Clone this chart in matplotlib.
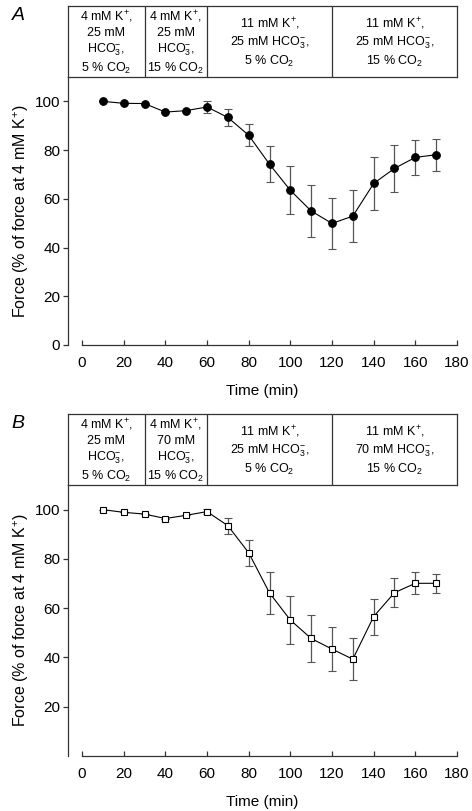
import matplotlib
matplotlib.use("Agg")
import matplotlib.pyplot as plt

plt.rcParams['font.family'] = ['Liberation Sans', 'DejaVu Sans']
plt.rcParams['mathtext.fontset'] = 'custom'
plt.rcParams['mathtext.rm'] = 'Liberation Sans'
plt.rcParams['mathtext.it'] = 'Liberation Sans:italic'

# время, мин
time = [10, 20, 30, 40, 50, 60, 70, 80, 90, 100, 110, 120, 130, 140, 150, 160, 170]

# панель A: 25 -> 25 mM HCO3
force_a = [100, 99.2, 99.1, 95.6, 96.2, 97.7, 93.4, 86.1, 74.2, 63.5, 55.0, 49.9, 52.9, 66.3, 72.5, 77.0, 78.1]
err_a = [0, 0, 0, 0, 0, 2.5, 3.4, 4.6, 7.5, 9.8, 10.6, 10.6, 10.7, 11.0, 9.6, 7.2, 6.6]

# панель B: 25 -> 70 mM HCO3
force_b = [100, 98.9, 98.2, 96.4, 97.7, 99.2, 93.5, 82.5, 66.2, 55.2, 47.7, 43.4, 39.3, 56.6, 66.3, 70.1, 70.1]
err_b = [0, 0, 0, 0, 0, 1.0, 3.3, 5.2, 8.6, 9.6, 9.6, 9.1, 8.6, 7.3, 6.0, 4.4, 3.9]

# границы периодов (мин) и подписи к ним
periods = [30, 60, 120]
labels_a = ["4 mM K$^{+}$,\n25 mM\nHCO$_{3}^{-}$,\n5 % CO$_{2}$",
            "4 mM K$^{+}$,\n25 mM\nHCO$_{3}^{-}$,\n15 % CO$_{2}$",
            "11 mM K$^{+}$,\n25 mM HCO$_{3}^{-}$,\n5 % CO$_{2}$",
            "11 mM K$^{+}$,\n25 mM HCO$_{3}^{-}$,\n15 % CO$_{2}$"]
labels_b = ["4 mM K$^{+}$,\n25 mM\nHCO$_{3}^{-}$,\n5 % CO$_{2}$",
            "4 mM K$^{+}$,\n70 mM\nHCO$_{3}^{-}$,\n15 % CO$_{2}$",
            "11 mM K$^{+}$,\n25 mM HCO$_{3}^{-}$,\n5 % CO$_{2}$",
            "11 mM K$^{+}$,\n70 mM HCO$_{3}^{-}$,\n15 % CO$_{2}$"]

W, H = 472, 811
fig = plt.figure(figsize=(W / 100, H / 100), dpi=100)

x0 = -6.72
axcol = '#333333'


def px(l, t, r, b):
    return [l / W, 1 - b / H, (r - l) / W, (b - t) / H]


def panel(box_rect, ax_rect, force, err, labels, marker, mfc, yticks, letter, letter_y):
    ax = fig.add_axes(px(*ax_rect))
    ax.patch.set_visible(False)
    ax.errorbar(time, force, yerr=err, fmt='-', color='black', lw=0.8,
                ecolor='#555555', elinewidth=0.9, capsize=3, capthick=0.9,
                marker=marker, markersize=5.5 if marker == 'o' else 5,
                markerfacecolor=mfc, markeredgecolor='black', markeredgewidth=0.8)
    ax.set_xlim(x0, 180)
    ax.set_ylim(0, 110)
    ax.spines['top'].set_visible(False)
    ax.spines['right'].set_visible(False)
    ax.spines['bottom'].set_bounds(0, 180)
    for s in ['left', 'bottom']:
        ax.spines[s].set_linewidth(0.9)
        ax.spines[s].set_color(axcol)
    ax.set_xticks(range(0, 181, 20))
    ax.set_yticks(yticks)
    ax.tick_params(axis='x', direction='in', length=3.5, width=0.9, color=axcol,
                   labelsize=11, pad=8)
    ax.tick_params(axis='y', direction='out', length=3.5, width=0.9, color=axcol,
                   labelsize=11, pad=2)
    ax.set_xlabel("Time (min)", fontsize=11, labelpad=10)
    ax.set_ylabel("Force (% of force at 4 mM K$^{+}$)", fontsize=11.5, labelpad=3)

    box = fig.add_axes(px(*box_rect))
    box.set_zorder(3)
    box.set_xlim(x0, 180)
    box.set_ylim(0, 1)
    box.set_xticks([])
    box.set_yticks([])
    for s in box.spines.values():
        s.set_linewidth(0.9)
        s.set_color(axcol)
    for p in periods:
        box.axvline(p, color=axcol, lw=0.9)
    edges = [x0] + periods + [180]
    for i, lab in enumerate(labels):
        box.text((edges[i] + edges[i + 1]) / 2, 0.49, lab, ha='center', va='center',
                 fontsize=9, linespacing=1.25)

    fig.text(18 / W, 1 - letter_y / H, letter, fontsize=14, style='italic',
             ha='center', va='center')
    return ax


panel((68, 6, 457, 77), (68, 77, 457, 345), force_a, err_a, labels_a,
      'o', 'black', range(0, 101, 20), 'A', 15)
panel((68, 414, 457, 485), (68, 485, 457, 756), force_b, err_b, labels_b,
      's', 'white', range(20, 101, 20), 'B', 424)

fig.savefig("out.png", dpi=100)
